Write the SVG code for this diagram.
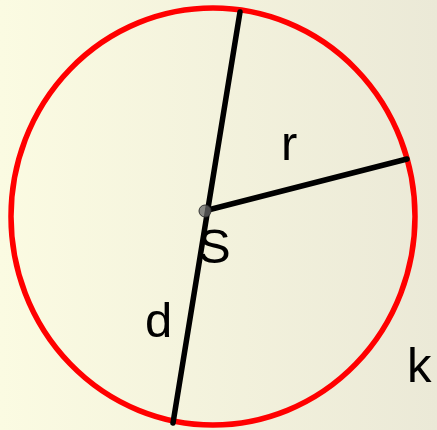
<svg xmlns="http://www.w3.org/2000/svg" width="437" height="430" viewBox="0 0 437 430">
<defs>
<linearGradient id="bg" x1="0" y1="0" x2="1" y2="0">
<stop offset="0" stop-color="#fbfbe2"/>
<stop offset="1" stop-color="#ebe9d7"/>
</linearGradient>
<style>
.seg{stroke:#000;stroke-width:5.5;stroke-linecap:round;fill:none}
.lbl{font-family:"Liberation Sans",Arial,sans-serif;font-size:49px;fill:#000}
</style>
</defs>
<rect width="437" height="430" fill="url(#bg)"/>
<g id="circle-k">
<ellipse cx="213" cy="216.5" rx="202" ry="208.5" fill="none" stroke="#ff0000" stroke-width="5.5"/>
<text class="lbl" x="407" y="382">k</text>
</g>
<g id="connectors">
<line class="seg" x1="240" y1="12" x2="173" y2="423"/>
<line class="seg" x1="208" y1="210" x2="407" y2="159"/>
</g>
<g id="point-S">
<circle cx="205" cy="211" r="6" fill="#666" fill-opacity="0.75" stroke="#333" stroke-width="1"/>
<text class="lbl" x="198" y="263">S</text>
</g>
<g id="label-r"><text class="lbl" x="281" y="160">r</text></g>
<g id="label-d"><text class="lbl" x="145" y="337">d</text></g>
</svg>
